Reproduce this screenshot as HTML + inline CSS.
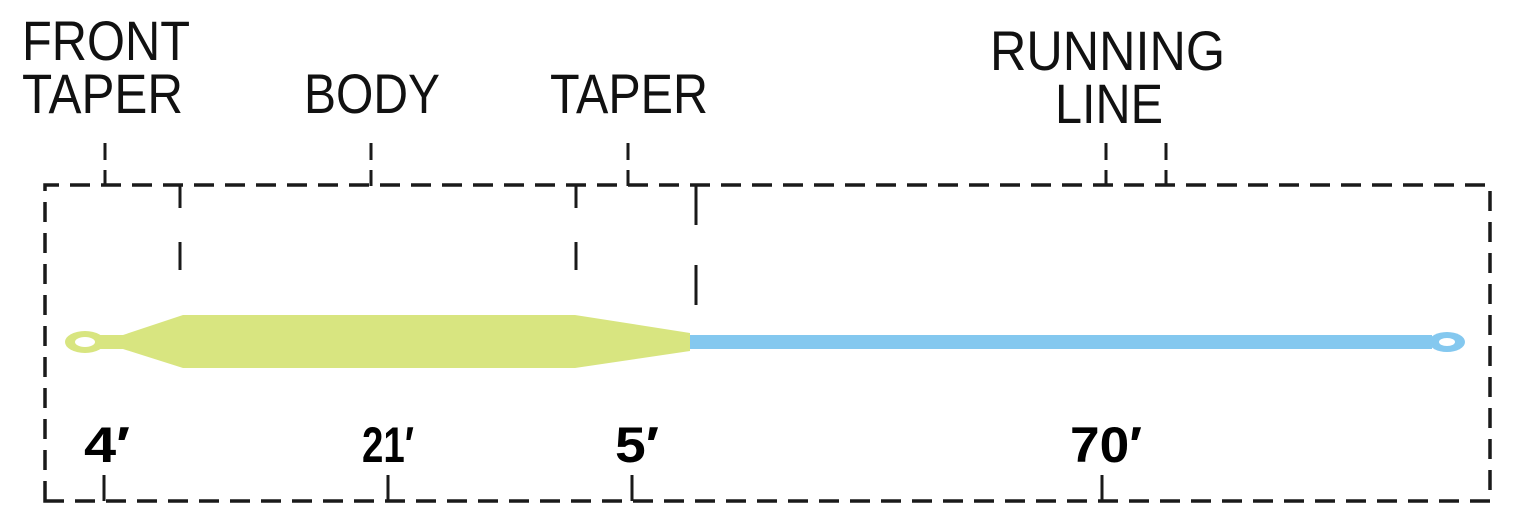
<!DOCTYPE html>
<html><head><meta charset="utf-8"><style>
html,body{margin:0;padding:0;background:#fff;width:1533px;height:524px;overflow:hidden}
svg{display:block}
.t{font-family:"Liberation Sans",sans-serif;font-size:56px;fill:#111}
.n{font-family:"Liberation Sans",sans-serif;font-size:50px;font-weight:bold;fill:#000}
</style></head><body>
<svg width="1533" height="524" viewBox="0 0 1533 524" xmlns="http://www.w3.org/2000/svg">
<g fill="none" stroke="#1a1a1a" stroke-width="3.5" stroke-dasharray="20 11">
<path d="M45 501 V185 H1490 V501 Z"/>
</g>
<g fill="none" stroke="#1a1a1a" stroke-width="3">
<path d="M105 143 V160 M105 170 V186"/>
<path d="M371 143 V160 M371 170 V186"/>
<path d="M628 143 V160 M628 170 V186"/>
<path d="M1106 143 V160 M1106 170 V186"/>
<path d="M1166 143 V160 M1166 170 V186"/>
<path d="M180 185 V208 M180 242 V270"/>
<path d="M576 185 V208 M576 242 V270"/>
<path d="M696 185 V225 M696 265 V305"/>
<path d="M104 475 V501 M388 475 V501 M632 475 V501 M1102 475 V501"/>
</g>
<path d="M690 335 H1432 V349 H690 Z" fill="#84c8ef"/>
<ellipse cx="1447" cy="342" rx="18" ry="10" fill="#84c8ef"/>
<ellipse cx="1447" cy="342" rx="8" ry="4" fill="#fff"/>
<path d="M100 335 H123 L183 315 H575 L690 333 V351 L575 368 H183 L123 349 H100 Z" fill="#d8e580"/>
<ellipse cx="85" cy="342" rx="20" ry="11" fill="#d8e580"/>
<ellipse cx="85" cy="342" rx="10" ry="5" fill="#fff"/>
<text class="t" x="22" y="60" textLength="168" lengthAdjust="spacingAndGlyphs">FRONT</text>
<text class="t" x="22" y="113" textLength="161" lengthAdjust="spacingAndGlyphs">TAPER</text>
<text class="t" x="304" y="113" textLength="136" lengthAdjust="spacingAndGlyphs">BODY</text>
<text class="t" x="550" y="113" textLength="158" lengthAdjust="spacingAndGlyphs">TAPER</text>
<text class="t" x="990" y="70" textLength="235" lengthAdjust="spacingAndGlyphs">RUNNING</text>
<text class="t" x="1055" y="123" textLength="108" lengthAdjust="spacingAndGlyphs">LINE</text>
<text class="n" x="84" y="462" textLength="46" lengthAdjust="spacingAndGlyphs">4′</text>
<text class="n" x="362" y="462" textLength="52" lengthAdjust="spacingAndGlyphs">21′</text>
<text class="n" x="615" y="462" textLength="44" lengthAdjust="spacingAndGlyphs">5′</text>
<text class="n" x="1070" y="462" textLength="72" lengthAdjust="spacingAndGlyphs">70′</text>
</svg>
</body></html>
